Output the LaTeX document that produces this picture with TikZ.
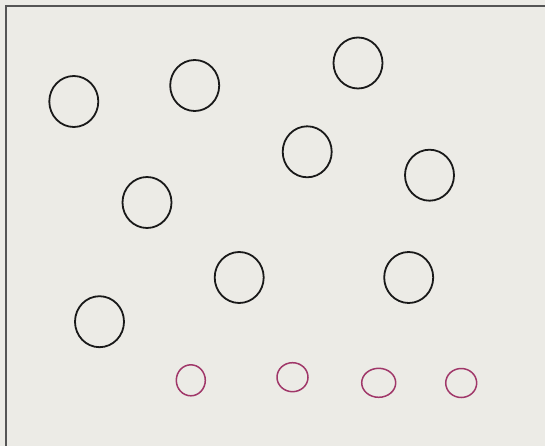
\documentclass[tikz,border=0pt]{standalone}
\usetikzlibrary{shapes.geometric}
\definecolor{paper}{RGB}{236,235,230}
\definecolor{frame}{RGB}{85,85,85}
\definecolor{pinkink}{RGB}{160,55,105}
\tikzset{
  bigc/.style={ellipse, draw=black!90, line width=1.8pt, minimum width=49pt, minimum height=51pt, inner sep=0pt},
  smallc/.style={ellipse, draw=pinkink, line width=1.5pt, inner sep=0pt}
}
\begin{document}
\begin{tikzpicture}[x=1pt,y=-1pt]
\fill[paper] (0,0) rectangle (545,446);
\useasboundingbox (0,0) rectangle (545,446);
\coordinate (tl) at (6,6);
\coordinate (tr) at (545,6);
\coordinate (bl) at (6,446);
\draw[frame, line width=1.4pt] (tr) -- (tl) -- (bl);
\node[bigc] (c1) at (73.8,101.5) {};
\node[bigc] (c2) at (194.7,85.5) {};
\node[bigc] (c3) at (358,63) {};
\node[bigc] (c4) at (307.2,151.8) {};
\node[bigc] (c5) at (429.5,175.2) {};
\node[bigc] (c6) at (147,202.5) {};
\node[bigc] (c7) at (239.2,277.5) {};
\node[bigc] (c8) at (408.7,277.5) {};
\node[bigc] (c9) at (99.5,321.7) {};
\node[smallc, minimum width=29pt, minimum height=31pt] (p1) at (190.8,380.3) {};
\node[smallc, minimum width=31pt, minimum height=29pt] (p2) at (292.5,377.2) {};
\node[smallc, minimum width=34pt, minimum height=29pt] (p3) at (378.7,382.8) {};
\node[smallc, minimum width=31pt, minimum height=29pt] (p4) at (461.2,383) {};
\end{tikzpicture}
\end{document}
